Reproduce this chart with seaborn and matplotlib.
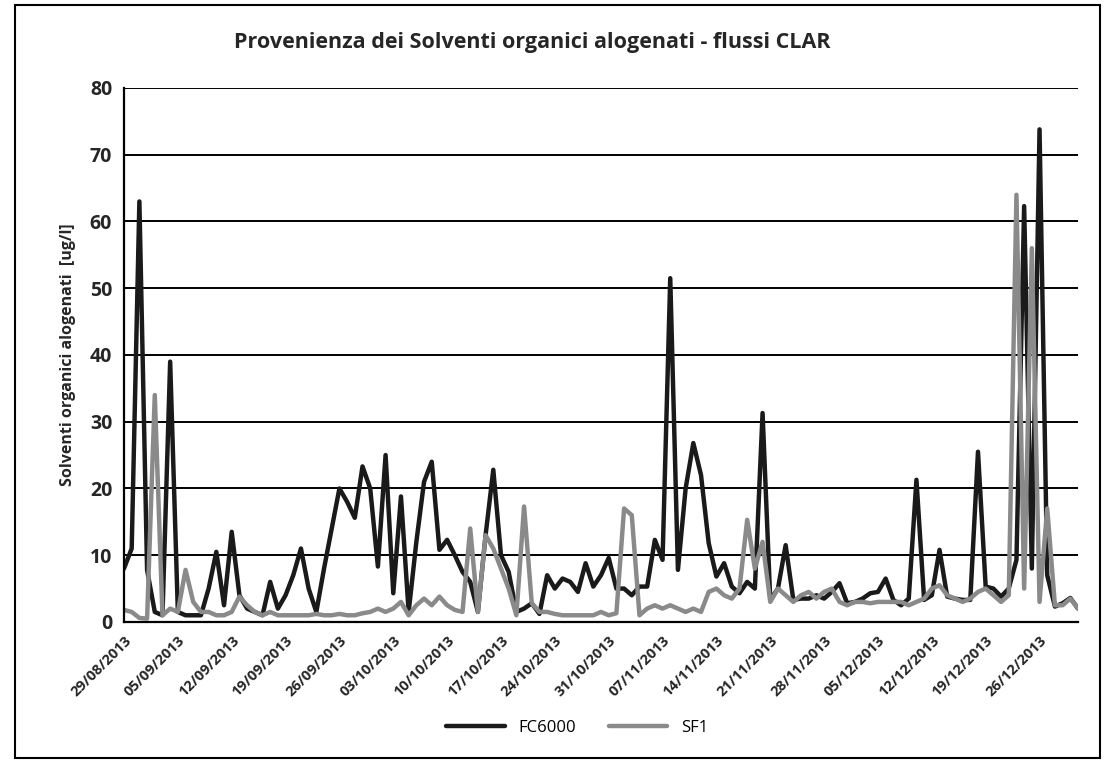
import numpy as np
import pandas as pd
import matplotlib
matplotlib.use("Agg")
import matplotlib.pyplot as plt
import matplotlib.transforms as mtransforms
import seaborn as sns

start_date = "2013-08-29"
n_days = 125

fc6000 = [8, 11, 63, 7.8, 1.5, 1, 39, 1.5, 1, 1,
          1, 5, 10.5, 2.5, 13.5, 4, 2, 1.5, 1, 6,
          2, 4, 7, 11, 5, 1.5, 8, 14, 20, 18,
          15.6, 23.3, 20, 8.3, 25, 4.3, 18.8, 1.5, 12, 21,
          24, 10.8, 12.3, 10, 7.5, 6, 1.5, 13, 22.8, 10,
          7.5, 1.5, 2, 2.8, 1.2, 7, 5, 6.5, 6, 4.5,
          8.8, 5.3, 7, 9.6, 5, 5, 4, 5.3, 5.3, 12.3,
          9.3, 51.5, 7.8, 20, 26.8, 22, 11.8, 6.8, 8.8, 5.3,
          4.3, 6, 5, 31.3, 3.3, 5, 11.5, 3.3, 3.5, 3.5,
          4, 3.5, 4.5, 5.8, 2.8, 3, 3.5, 4.3, 4.5, 6.5,
          3.3, 2.5, 3.5, 21.3, 3.3, 4, 10.8, 3.8, 3.5, 3.3,
          3.3, 25.5, 5.3, 5, 3.8, 5, 9.3, 62.3, 8, 73.8,
          7, 2.3, 2.8, 3.6, 2]

sf1 = [1.8, 1.5, 0.6, 0.5, 34, 1, 2, 1.5, 7.8, 3,
       1.5, 1.5, 1, 1, 1.5, 3.8, 2.5, 1.5, 1, 1.5,
       1, 1, 1, 1, 1, 1.2, 1, 1, 1.2, 1,
       1, 1.3, 1.5, 2, 1.5, 2, 3, 1, 2.5, 3.5,
       2.5, 3.8, 2.5, 1.8, 1.5, 14, 1.5, 13, 11, 8,
       5, 1, 17.3, 2.8, 1.5, 1.5, 1.2, 1, 1, 1,
       1, 1, 1.5, 1, 1.3, 17, 16, 1, 2, 2.5,
       2, 2.5, 2, 1.5, 2, 1.5, 4.5, 5, 4, 3.5,
       5, 15.3, 8, 12, 3, 5, 4, 3, 4, 4.5,
       3.5, 4.5, 5, 3, 2.5, 3, 3, 2.8, 3, 3,
       3, 3, 2.5, 3, 3.5, 5, 5.5, 4, 3.5, 3,
       3.5, 4.5, 5, 4, 3, 4, 64, 5, 56, 3,
       17, 2.5, 2.5, 3.5, 2]

series_names = ["FC6000", "SF1"]
y_ticks = [0, 10, 20, 30, 40, 50, 60, 70, 80]
title = "Provenienza dei Solventi organici alogenati - flussi CLAR"
y_label = "Solventi organici alogenati  [ug/l]"

dates = pd.date_range(start_date, periods=n_days, freq="D")
df = pd.DataFrame({"Data": dates, series_names[0]: fc6000, series_names[1]: sf1})
long = df.melt(id_vars="Data", var_name="Serie", value_name="Valore")

sns.set_theme(style="white")
plt.rcParams["font.family"] = ["Open Sans", "DejaVu Sans"]

fig = plt.figure(figsize=(11.09, 7.65), dpi=100)
ax = fig.add_axes([124 / 1109, 0.187, (1078 - 124) / 1109, 0.698])

palette = {"FC6000": "#1a1a1a", "SF1": "#8a8a8a"}
sns.lineplot(data=long, x="Data", y="Valore", hue="Serie", palette=palette,
             linewidth=3.2, ax=ax, legend=True)

ax.set_ylim(0, 80)
ax.set_xlim(dates[0], dates[-1])
ax.set_yticks(y_ticks)
ax.yaxis.grid(True, color="black", linewidth=1.4)
ax.xaxis.grid(False)
ax.set_axisbelow(True)
for s in ["top", "right"]:
    ax.spines[s].set_visible(False)
ax.spines["left"].set_color("black")
ax.spines["left"].set_linewidth(1.6)
ax.spines["bottom"].set_color("black")
ax.spines["bottom"].set_linewidth(1.6)

tick_dates = pd.date_range(start_date, periods=18, freq="7D")
ax.set_xticks(tick_dates)
ax.set_xticklabels([d.strftime("%d/%m/%Y") for d in tick_dates], rotation=45,
                   ha="right", rotation_mode="anchor", fontsize=10.5, fontweight="bold")
offset = mtransforms.ScaledTranslation(5 / 100, 0, fig.dpi_scale_trans)
for lbl in ax.get_xticklabels():
    lbl.set_transform(lbl.get_transform() + offset)
ax.tick_params(axis="x", direction="out", length=5, width=1.4, color="black", pad=3)
ax.tick_params(axis="y", direction="out", length=5, width=1.4, color="black", labelsize=14)
for lbl in ax.get_yticklabels():
    lbl.set_fontweight("bold")

ax.set_xlabel("")
ax.set_ylabel(y_label, fontsize=11.5, fontweight="bold", labelpad=10)
fig.text(0.48, 0.945, title, ha="center", va="center", fontsize=15.5, fontweight="bold")

leg = ax.legend(loc="upper center", bbox_to_anchor=(0.475, -0.155), ncol=2, frameon=False,
                fontsize=12, handlelength=3.5, columnspacing=2)
for t in leg.get_texts():
    t.set_color("black")

frame = plt.Rectangle((15 / 1109, 1 - 758 / 765), (1100 - 15) / 1109, (758 - 5) / 765,
                      transform=fig.transFigure, fill=False, edgecolor="black", linewidth=1.5)
fig.patches.append(frame)

fig.savefig("out.png", dpi=100, facecolor="white")
